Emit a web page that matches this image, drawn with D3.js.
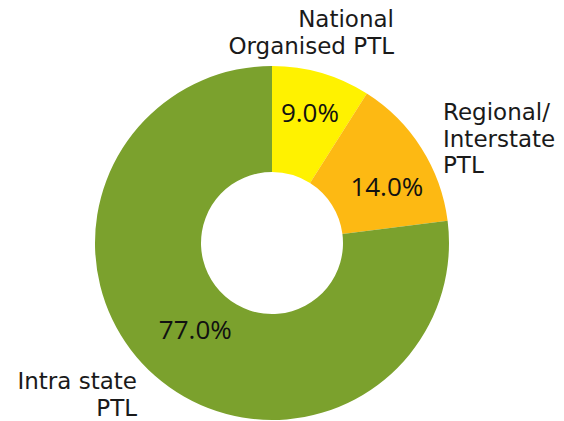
<!DOCTYPE html>
<html>
<head>
<meta charset="utf-8">
<script src="https://cdn.jsdelivr.net/npm/d3@7"></script>
<style>
  body { margin: 0; background: #fff; }
</style>
</head>
<body>
<div class="container"></div>
<script>
// shares of PTL fleet
const categories = ["National Organised PTL", "Regional/ Interstate PTL", "Intra state PTL"];
const shares = [9.0, 14.0, 77.0];
const labelLines = [["National", "Organised PTL"], ["Regional/", "Interstate", "PTL"], ["Intra state", "PTL"]];
const colors = ["#fff200", "#fdb913", "#7ba12d"];

const width = 564;
const height = 421;
const cx = 272, cy = 243;
const outerR = 177, innerR = 71;

const svg = d3
  .select(".container")
  .append("svg")
  .attr("width", width)
  .attr("height", height);

const pie = d3.pie().sort(null).value((d) => d);
const arcs = pie(shares);

const arc = d3.arc().innerRadius(innerR).outerRadius(outerR);

const g = svg.append("g").attr("transform", `translate(${cx},${cy})`);

g.selectAll("path")
  .data(arcs)
  .join("path")
  .attr("d", arc)
  .attr("fill", (d, i) => colors[i]);

// percentage labels, radius nudged per slice like the original
const labelR = [136, 136, 116];
g.selectAll("text.pct")
  .data(arcs)
  .join("text")
  .attr("class", "pct")
  .attr("transform", (d, i) => {
    const c = d3.arc().innerRadius(labelR[i]).outerRadius(labelR[i]).centroid(d);
    const dy = i === 1 ? 16 : 0;
    return `translate(${c[0]},${c[1] + dy})`;
  })
  .attr("text-anchor", "middle")
  .attr("dy", "0.36em")
  .style("font", "400 26px 'Open Sans', sans-serif")
  .style("fill", "#111")
  .text((d) => d.data.toFixed(1) + "%");

// category labels
const labelPos = [
  { x: 394, y: 27, anchor: "end" },
  { x: 443, y: 120, anchor: "start" },
  { x: 137, y: 389, anchor: "end" }
];
labelLines.forEach((lines, i) => {
  const p = labelPos[i];
  const t = svg
    .append("text")
    .attr("x", p.x)
    .attr("y", p.y)
    .attr("text-anchor", p.anchor)
    .style("font", "23px 'DejaVu Sans', sans-serif")
    .style("fill", "#1a1a1a");
  lines.forEach((line, j) => {
    t.append("tspan")
      .attr("x", p.x)
      .attr("dy", j === 0 ? 0 : 26.5)
      .text(line);
  });
});
</script>
</body>
</html>
